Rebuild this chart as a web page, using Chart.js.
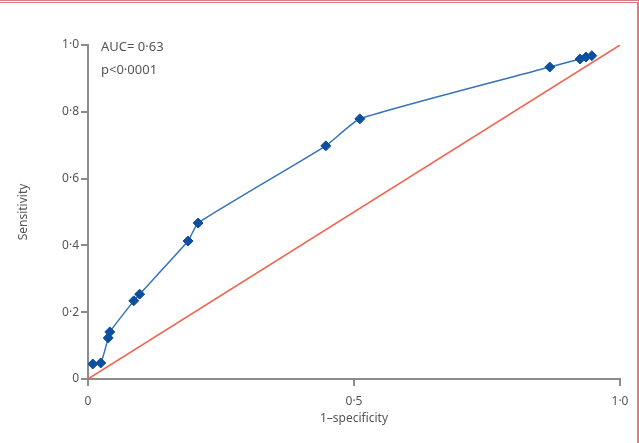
<!DOCTYPE html>
<html>
<head>
<meta charset="utf-8">
<script src="https://cdn.jsdelivr.net/npm/chart.js@4"></script>
<style>
  html, body { margin: 0; padding: 0; background: #fff; }
  #wrap {
    position: relative; width: 639px; height: 443px; box-sizing: border-box;
    border-top: 3px double #e07a86; border-right: 2px solid #e07a86;
  }
  #roc { position: absolute; left: 0; top: -3px; }
</style>
</head>
<body>
<div id="wrap"><canvas id="roc" width="639" height="443"></canvas></div>
<script>
// ROC curve points
const specComplement = [0.009, 0.024, 0.038, 0.041, 0.086, 0.097, 0.188, 0.207, 0.447, 0.511, 0.868, 0.925, 0.936, 0.947];
const sensitivity = [0.045, 0.048, 0.123, 0.141, 0.234, 0.254, 0.413, 0.467, 0.698, 0.779, 0.934, 0.958, 0.964, 0.968];
const refLineX = [0, 1];
const refLineY = [0, 1];
const xTicks = [0, 0.5, 1];
const yTicks = [0, 0.2, 0.4, 0.6, 0.8, 1];
const notes = ["AUC= 0·63", "p<0·0001"];

const fontFam = "'Noto Sans', 'Open Sans', sans-serif";
const axisGrey = "#8c8c8c";
const textGrey = "#555";

function fmt(v) {
  if (v === 0) return "0";
  return v.toFixed(1).replace(".", "·");
}

const annotate = {
  id: "annotate",
  afterDraw(chart) {
    const ctx = chart.ctx;
    const a = chart.chartArea;
    ctx.save();
    ctx.font = "13px " + fontFam;
    ctx.fillStyle = textGrey;
    ctx.textBaseline = "middle";
    ctx.fillText(notes[0], a.left + 13, a.top + 2);
    ctx.fillText(notes[1], a.left + 13, a.top + 25);
    ctx.restore();
  }
};

new Chart(document.getElementById("roc"), {
  type: "scatter",
  data: {
    datasets: [
      {
        data: refLineX.map((x, i) => ({ x: x, y: refLineY[i] })),
        showLine: true,
        borderColor: "#f2624f",
        borderWidth: 1.5,
        pointRadius: 0
      },
      {
        data: specComplement.map((x, i) => ({ x: x, y: sensitivity[i] })),
        showLine: true,
        borderColor: "#3673b8",
        borderWidth: 1.5,
        tension: 0.15,
        pointStyle: "rectRot",
        pointRadius: 5,
        pointBackgroundColor: "#0d4f9e",
        pointBorderColor: "#0d4f9e",
        pointBorderWidth: 1
      }
    ]
  },
  plugins: [annotate],
  options: {
    responsive: false,
    animation: false,
    layout: { padding: { left: 12, right: 19, top: 45, bottom: 13 } },
    plugins: { legend: { display: false }, tooltip: { enabled: false } },
    scales: {
      x: {
        type: "linear",
        min: 0, max: 1,
        afterBuildTicks: s => { s.ticks = xTicks.map(v => ({ value: v })); },
        afterFit: s => { s.height = 51; },
        grid: { drawOnChartArea: false, drawTicks: true, tickLength: 7, color: axisGrey, lineWidth: 2 },
        border: { display: true, color: axisGrey, width: 2 },
        ticks: { callback: fmt, color: textGrey, font: { family: fontFam, size: 12 }, padding: 8, maxRotation: 0 },
        title: { display: true, text: "1–specificity", color: textGrey, font: { family: fontFam, size: 12 }, padding: { top: 2 } }
      },
      y: {
        type: "linear",
        min: 0, max: 1,
        afterBuildTicks: s => { s.ticks = yTicks.map(v => ({ value: v })); },
        afterFit: s => { s.width = 76; },
        grid: { drawOnChartArea: false, drawTicks: true, tickLength: 7, color: axisGrey, lineWidth: 2 },
        border: { display: true, color: axisGrey, width: 2 },
        ticks: { callback: fmt, color: textGrey, font: { family: fontFam, size: 12 }, padding: 2 },
        title: { display: true, text: "Sensitivity", color: textGrey, font: { family: fontFam, size: 12 }, padding: { bottom: 0 } }
      }
    }
  }
});
</script>
</body>
</html>
